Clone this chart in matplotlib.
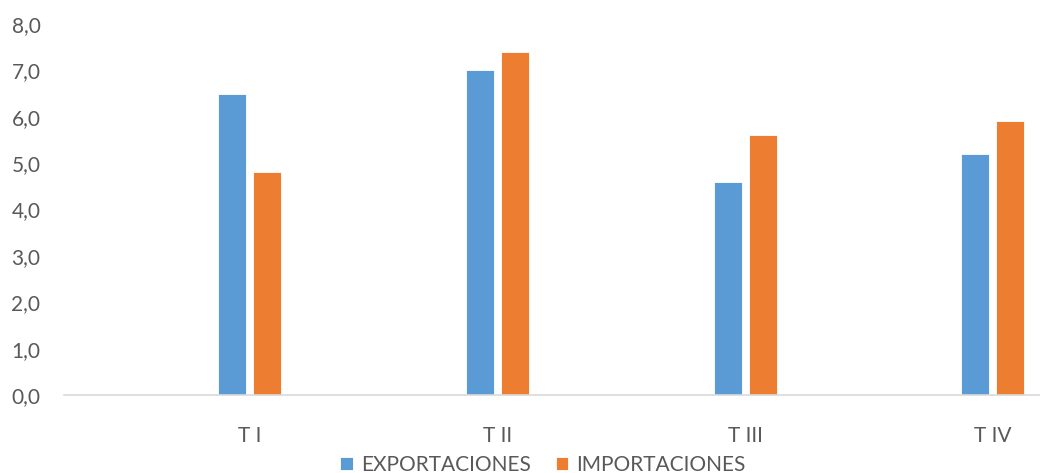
import matplotlib
matplotlib.use("Agg")
import matplotlib.pyplot as plt
import numpy as np

categories = ["T I", "T II", "T III", "T IV"]
exportaciones = [6.5, 7.0, 4.6, 5.2]
importaciones = [4.8, 7.4, 5.6, 5.9]
yticks = [0, 1, 2, 3, 4, 5, 6, 7, 8]

plt.rcParams['font.family'] = ['Lato', 'DejaVu Sans']
text_color = "#595959"
blue = "#5B9BD5"
orange = "#ED7D31"

fig = plt.figure(figsize=(10.4, 4.73), dpi=100)
ax = fig.add_axes([64/1040, (473-395)/473, 1 - 64/1040, (395-24)/473])

x = np.arange(len(categories))
w = 0.113
off = 0.0707
ax.bar(x - off, exportaciones, w, color=blue, label="EXPORTACIONES", edgecolor="white", linewidth=0.6)
ax.bar(x + off, importaciones, w, color=orange, label="IMPORTACIONES", edgecolor="white", linewidth=0.6)

ax.set_xlim(-0.75, 3.19)
ax.set_ylim(0, 8)
ax.set_yticks(yticks)
ax.set_yticklabels([f"{v:.1f}".replace(".", ",") for v in yticks])
ax.set_xticks(x)
ax.set_xticklabels(categories)
ax.tick_params(axis='both', length=0, labelsize=15, colors=text_color)
ax.tick_params(axis='y', pad=17)
ax.tick_params(axis='x', pad=22)
for s in ["top", "right", "left"]:
    ax.spines[s].set_visible(False)
ax.spines["bottom"].set_color("#D9D9D9")
ax.spines["bottom"].set_linewidth(1.2)

leg = fig.legend(loc="center", bbox_to_anchor=(543/1040, 1 - 465/473), ncol=2, frameon=False,
                 fontsize=15, handlelength=0.6, handleheight=0.6, handletextpad=0.4,
                 columnspacing=1.2, borderpad=0, borderaxespad=0)
for t in leg.get_texts():
    t.set_color(text_color)

fig.savefig("out.png", dpi=100)
